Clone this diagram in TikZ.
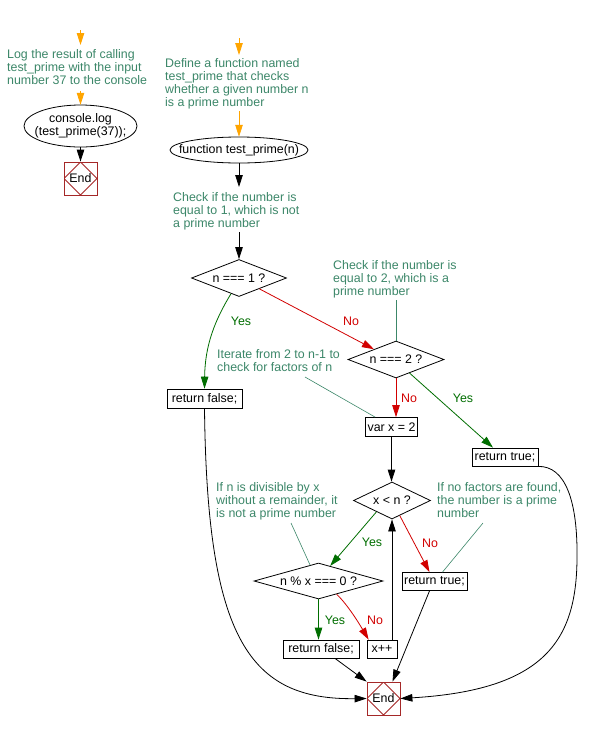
\documentclass[tikz,border=0pt]{standalone}
\usepackage{fontspec}
\setmainfont{Liberation Sans}
\usetikzlibrary{shapes.geometric,arrows.meta,calc}
\definecolor{cmtc}{RGB}{60,135,105}
\definecolor{yesc}{RGB}{0,110,0}
\definecolor{noc}{RGB}{210,0,0}
\definecolor{orng}{RGB}{255,165,0}
\definecolor{endc}{RGB}{165,40,40}
\newcommand{\cmtlines}[1]{\begin{tabular}[t]{@{}l@{}}#1\end{tabular}}
\begin{document}
\begin{tikzpicture}[x=1pt,y=-1pt,
  every node/.style={font=\fontsize{12.4}{13}\selectfont, inner sep=0pt},
  line/.style={line width=0.8pt},
  tip/.style={-{Triangle[length=12pt,width=7.5pt]}},
  flow/.style={line, tip, black},
  orangearrow/.style={line, tip, orng},
  yesline/.style={line, tip, yesc},
  noline/.style={line, tip, noc},
  cmtline/.style={line width=0.6pt, cmtc},
  cmt/.style={anchor=base west, text=cmtc},
  yeslbl/.style={text=yesc},
  nolbl/.style={text=noc},
  procbox/.style={draw, line width=0.8pt, rectangle, minimum height=19pt},
  decision/.style={draw, line width=0.8pt, shape=diamond},
  endbox/.style={draw=endc, line width=0.8pt, minimum width=33pt, minimum height=33pt,
    path picture={\draw[endc, line width=0.8pt] (path picture bounding box.north) -- (path picture bounding box.east) -- (path picture bounding box.south) -- (path picture bounding box.west) -- cycle;}},
]
\useasboundingbox[fill=white] (0,0) rectangle (590,729);

% left column
\node[cmt] (c1) at (7,58) {\cmtlines{Log the result of calling\\test\_prime with the input\\number 37 to the console}};
\node[minimum width=113pt, minimum height=42pt, align=center] (cl) at (80.5,126) {console.log\\(test\_prime(37));};
\draw[line] (cl.center) ellipse [x radius=56.5, y radius=21];
\node[endbox] (e1) at (80.5,178.5) {End};
\coordinate (o1s) at (80.5,30);
\coordinate (o1e) at (80.5,45);
\coordinate (o2s) at (80.5,91);
\draw[orangearrow] (o1s) -- (o1e);
\draw[orangearrow] (o2s) -- (cl.north);
\draw[flow] (cl.south) -- (e1.north);

% main column
\node[cmt] (c2) at (165,67) {\cmtlines{Define a function named\\test\_prime that checks\\whether a given number n\\is a prime number}};
\node[minimum width=138pt, minimum height=26pt] (fn) at (239,150) {function test\_prime(n)};
\draw[line] (fn.center) ellipse [x radius=69, y radius=13];
\node[cmt] (c3) at (173,201) {\cmtlines{Check if the number is\\equal to 1, which is not\\a prime number}};
\node[decision, minimum width=95pt, minimum height=37pt, aspect=2.57] (d1) at (239,278) {n === 1 ?};
\node[cmt] (c4) at (333,269) {\cmtlines{Check if the number is\\equal to 2, which is a\\prime number}};
\node[decision, minimum width=96pt, minimum height=37pt, aspect=2.6] (d2) at (396,359.5) {n === 2 ?};
\node[procbox, minimum width=75pt] (rf1) at (204.5,398.5) {return false;};
\node[cmt] (c5) at (217,358) {\cmtlines{Iterate from 2 to n-1 to\\check for factors of n}};
\node[procbox, minimum width=52pt] (vx) at (391.5,427) {var x = 2};
\node[procbox, minimum width=66pt, minimum height=18pt] (rt1) at (505,457) {return true;};
\node[decision, minimum width=77pt, minimum height=37pt, aspect=2.08] (d3) at (392,500.5) {x < n ?};
\node[cmt] (c6) at (216,491) {\cmtlines{If n is divisible by x\\without a remainder, it\\is not a prime number}};
\node[cmt] (c7) at (437,491) {\cmtlines{If no factors are found,\\the number is a prime\\number}};
\node[decision, minimum width=129pt, minimum height=36pt, aspect=3.58] (d4) at (318.5,581) {n \% x === 0 ?};
\node[procbox, minimum width=65pt, minimum height=18pt] (rt2) at (434.5,581.5) {return true;};
\node[procbox, minimum width=76pt, minimum height=18pt] (rf2) at (321,649) {return false;};
\node[procbox, minimum width=30pt, minimum height=18pt] (xpp) at (382,649) {x++};
\node[endbox] (e2) at (383.5,698.5) {End};

% labels
\node[yeslbl] (y1) at (241,321) {Yes};
\node[nolbl] (n1) at (351,321) {No};
\node[nolbl] (n2) at (409,398) {No};
\node[yeslbl] (y2) at (463,398) {Yes};
\node[yeslbl] (y3) at (372,542) {Yes};
\node[nolbl] (n3) at (430,543) {No};
\node[yeslbl] (y4) at (335,620) {Yes};
\node[nolbl] (n4) at (375,620) {No};

% coordinates for free ends
\coordinate (o3s) at (239,38);
\coordinate (o3e) at (239,55);
\coordinate (o4s) at (239,111);
\coordinate (a1e) at (239,187);
\coordinate (a2s) at (239,232);
\coordinate (k4) at (396,300);
\coordinate (k5) at (305,377);
\coordinate (k6) at (291,523);
\coordinate (k7) at (483,523);

% connectors
\draw[orangearrow] (o3s) -- (o3e);
\draw[orangearrow] (o4s) -- (fn.north);
\draw[flow] (fn.south) -- (a1e);
\draw[flow] (a2s) -- (d1.north);
\draw[yesline] (d1.-117) .. controls (215,320) and (205,345) .. (rf1.north);
\draw[noline] (d1.-28) -- (d2.155);
\draw[cmtline] (k4) -- (d2.north);
\draw[noline] (d2.south) -- (d2.south |- vx.north);
\draw[cmtline] (k5) -- ([xshift=10pt]vx.north west);
\draw[yesline] (d2.-45) -- ([xshift=-12pt]rt1.north);
\draw[flow] (vx.south) -- (vx.south |- d3.north);
\draw[yesline] ($(d3.south)!0.4!(d3.west)$) -- ($(d4.north)!0.18!(d4.east)$);
\draw[cmtline] (k6) -- ($(d4.north)!0.13!(d4.west)$);
\draw[noline] ($(d3.south)!0.2!(d3.east)$) -- ([xshift=-5pt]rt2.north);
\draw[cmtline] (k7) -- ([xshift=8pt]rt2.north);
\draw[flow] (d3.south |- xpp.north) -- (d3.south);
\draw[flow] ([xshift=-5pt]rt2.south) -- ([xshift=9pt]e2.north);
\draw[yesline] (d4.south) -- (d4.south |- rf2.north);
\draw[noline] ($(d4.south)!0.28!(d4.east)$) .. controls (348,605) and (360,625) .. ([xshift=2pt]xpp.north west);
\draw[flow] ([xshift=14pt]rf2.south) -- (e2.north west);
\draw[flow] (rf1.south) .. controls (207,640) and (250,700) .. (e2.west);
\draw[flow] (rt1.south east) .. controls (565,466) and (578,500) .. (577,560) .. controls (576,640) and (545,690) .. (e2.east);
\end{tikzpicture}
\end{document}
